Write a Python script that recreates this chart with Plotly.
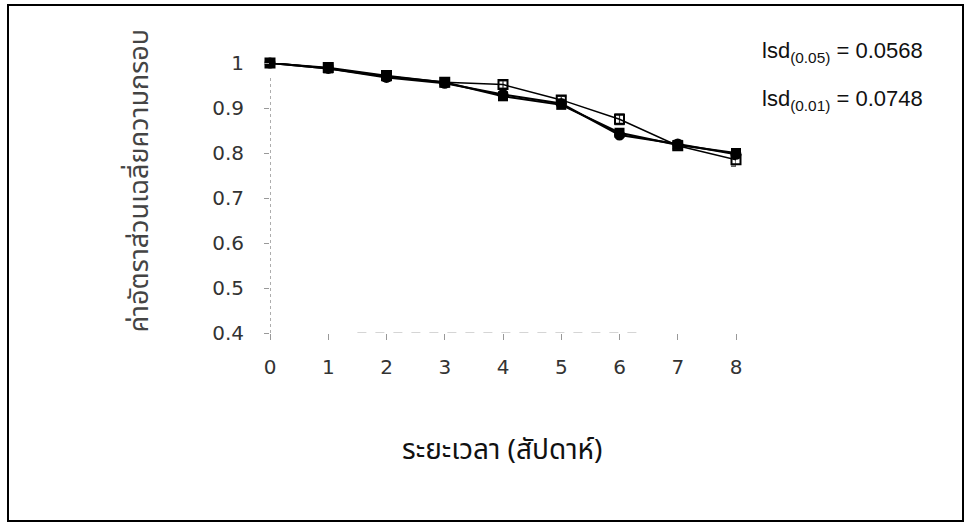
import plotly.graph_objects as go

weeks = [0, 1, 2, 3, 4, 5, 6, 7, 8]
series_square = [1.000, 0.988, 0.970, 0.957, 0.926, 0.907, 0.845, 0.818, 0.800]
series_circle = [1.000, 0.988, 0.968, 0.955, 0.930, 0.910, 0.840, 0.820, 0.797]
series_open = [1.000, 0.990, 0.972, 0.957, 0.952, 0.918, 0.875, 0.816, 0.785]
open_err = [0.0, 0.004, 0.008, 0.004, 0.008, 0.008, 0.012, 0.006, 0.014]

y_ticks = [0.4, 0.5, 0.6, 0.7, 0.8, 0.9, 1.0]
y_tick_text = ["0.4", "0.5", "0.6", "0.7", "0.8", "0.9", "1"]
x_tick_text = [str(w) for w in weeks]

y_title = "ค่าอัตราส่วนเฉลี่ยความกรอบ"
x_title = "ระยะเวลา (สัปดาห์)"
lsd_lines = ["lsd<sub>(0.05)</sub> = 0.0568", "lsd<sub>(0.01)</sub> = 0.0748"]

W, H = 968, 526
L, R, T, B = 270, 232, 63, 193
pw, ph = W - L - R, H - T - B

def px_to_paper_x(px):
    return (px - L) / pw

def py_to_paper_y(py):
    return (H - B - py) / ph

fig = go.Figure()
fig.add_trace(go.Scatter(
    x=weeks, y=series_open, mode="lines+markers",
    line=dict(color="black", width=1.5),
    marker=dict(symbol="square-open", size=9, color="black", line=dict(width=2)),
    error_y=dict(type="data", array=open_err, color="#333", thickness=1.2, width=5),
    cliponaxis=False, showlegend=False,
))
fig.add_trace(go.Scatter(
    x=weeks, y=series_circle, mode="lines+markers",
    line=dict(color="black", width=2),
    marker=dict(symbol="circle", size=11, color="black"),
    cliponaxis=False, showlegend=False,
))
fig.add_trace(go.Scatter(
    x=weeks, y=series_square, mode="lines+markers",
    line=dict(color="black", width=2),
    marker=dict(symbol="square", size=10, color="black"),
    cliponaxis=False, showlegend=False,
))

tick_font = dict(family="DejaVu Sans, sans-serif", size=20, color="#333")
thai_font = "Noto Sans Thai, Loma, Garuda, Noto Sans, DejaVu Sans, sans-serif"
lsd_font = dict(family="Liberation Sans, Arial, sans-serif", size=22, color="#111")

fig.update_xaxes(
    range=[0, 8], tickvals=weeks, ticktext=x_tick_text,
    showgrid=False, zeroline=False, showline=False,
    ticks="outside", ticklen=6, tickcolor="#999",
    ticklabelstandoff=10, tickfont=tick_font,
)
fig.update_yaxes(
    range=[0.4, 1.0], tickvals=y_ticks, ticktext=y_tick_text,
    showgrid=False, zeroline=False, showline=False,
    ticks="outside", ticklen=5, tickcolor="#999",
    ticklabelstandoff=16, tickfont=tick_font,
)

annotations = [
    dict(text=x_title, xref="paper", yref="paper",
         x=px_to_paper_x(502), y=py_to_paper_y(474),
         showarrow=False, font=dict(family=thai_font, size=28, color="#111")),
    dict(text=y_title, xref="paper", yref="paper", textangle=-90,
         x=px_to_paper_x(116), y=py_to_paper_y(181),
         showarrow=False, font=dict(family=thai_font, size=27, color="#444")),
    dict(text=lsd_lines[0], xref="paper", yref="paper", xanchor="left",
         x=px_to_paper_x(760), y=py_to_paper_y(36),
         showarrow=False, font=lsd_font),
    dict(text=lsd_lines[1], xref="paper", yref="paper", xanchor="left",
         x=px_to_paper_x(760), y=py_to_paper_y(84),
         showarrow=False, font=lsd_font),
]

shapes = [
    dict(type="rect", xref="paper", yref="paper",
         x0=px_to_paper_x(8), x1=px_to_paper_x(963),
         y0=py_to_paper_y(521), y1=py_to_paper_y(5),
         line=dict(color="black", width=2), fillcolor="rgba(0,0,0,0)", layer="below"),
    dict(type="line", xref="x", yref="y", x0=0, x1=0, y0=0.4, y1=0.97,
         line=dict(color="#777", width=1.2, dash="dot"), layer="below"),
    dict(type="line", xref="x", yref="y", x0=1.5, x1=6.4, y0=0.4, y1=0.4,
         line=dict(color="#aaa", width=1, dash="dash"), layer="below"),
]

fig.update_layout(
    width=W, height=H,
    margin=dict(l=L, r=R, t=T, b=B),
    paper_bgcolor="white", plot_bgcolor="white",
    annotations=annotations, shapes=shapes,
    showlegend=False,
)

fig.write_html("out.html")
